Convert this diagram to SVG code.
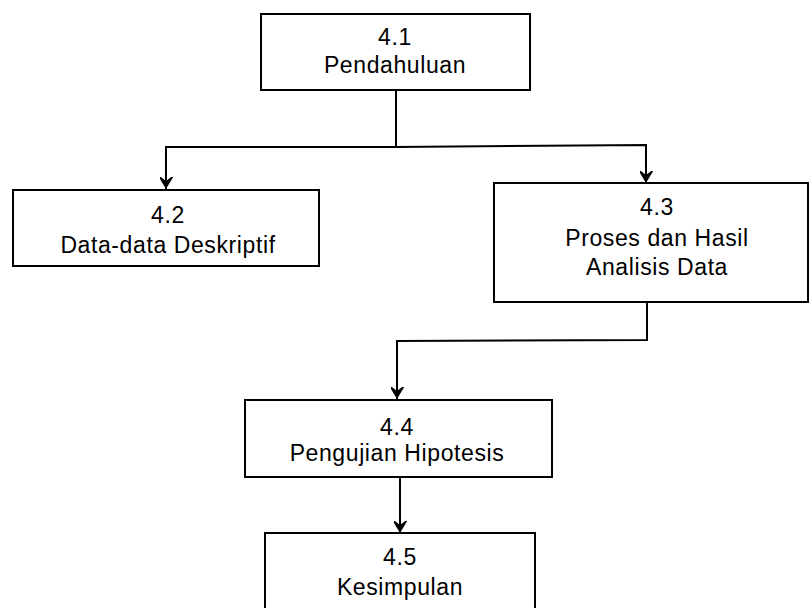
<svg xmlns="http://www.w3.org/2000/svg" width="810" height="608" viewBox="0 0 810 608">
  <style>
    .box { fill: #ffffff; stroke: #000000; stroke-width: 2; }
    .lbl { font-family: "Liberation Sans", Arial, sans-serif; font-size: 23px; fill: #000000; text-anchor: middle; letter-spacing: 0.6px; }
    .wire { fill: none; stroke: #000000; stroke-width: 2; }
  </style>
  <defs>
    <marker id="arrow" markerUnits="userSpaceOnUse" markerWidth="24" markerHeight="24" viewBox="-12 -18 24 24" refX="0" refY="0" orient="auto-start-reverse">
      <path d="M -9,-15 L 0,0 L 9,-15 L 0,-8 Z" fill="#000000" transform="rotate(-90)"/>
    </marker>
  </defs>
  <rect width="810" height="608" fill="#ffffff"/>

  <!-- tree connectors -->
  <g id="connectors">
    <polyline class="wire" points="396,90 396,147 166,147 166,189" marker-end="url(#arrow)"/>
    <polyline class="wire" points="396,147 646,145 646,183" marker-end="url(#arrow)"/>
    <polyline class="wire" points="647,302 647,340 397,341 397,399" marker-end="url(#arrow)"/>
    <polyline class="wire" points="400,477 400,533" marker-end="url(#arrow)"/>
  </g>

  <g id="node-4-1">
    <rect class="box" x="261" y="14" width="269" height="76"/>
    <text class="lbl" x="395" y="45">4.1</text>
    <text class="lbl" x="395" y="73">Pendahuluan</text>
  </g>

  <g id="node-4-2">
    <rect class="box" x="13" y="190" width="306" height="76"/>
    <text class="lbl" x="168" y="223">4.2</text>
    <text class="lbl" x="168" y="253">Data-data Deskriptif</text>
  </g>

  <g id="node-4-3">
    <rect class="box" x="494" y="183" width="314" height="119"/>
    <text class="lbl" x="657" y="215">4.3</text>
    <text class="lbl" x="657" y="246">Proses dan Hasil</text>
    <text class="lbl" x="657" y="275">Analisis Data</text>
  </g>

  <g id="node-4-4">
    <rect class="box" x="245" y="400" width="307" height="77"/>
    <text class="lbl" x="397" y="435">4.4</text>
    <text class="lbl" x="397" y="461">Pengujian Hipotesis</text>
  </g>

  <g id="node-4-5">
    <rect class="box" x="265" y="533" width="270" height="90"/>
    <text class="lbl" x="400" y="565">4.5</text>
    <text class="lbl" x="400" y="595">Kesimpulan</text>
  </g>
</svg>
